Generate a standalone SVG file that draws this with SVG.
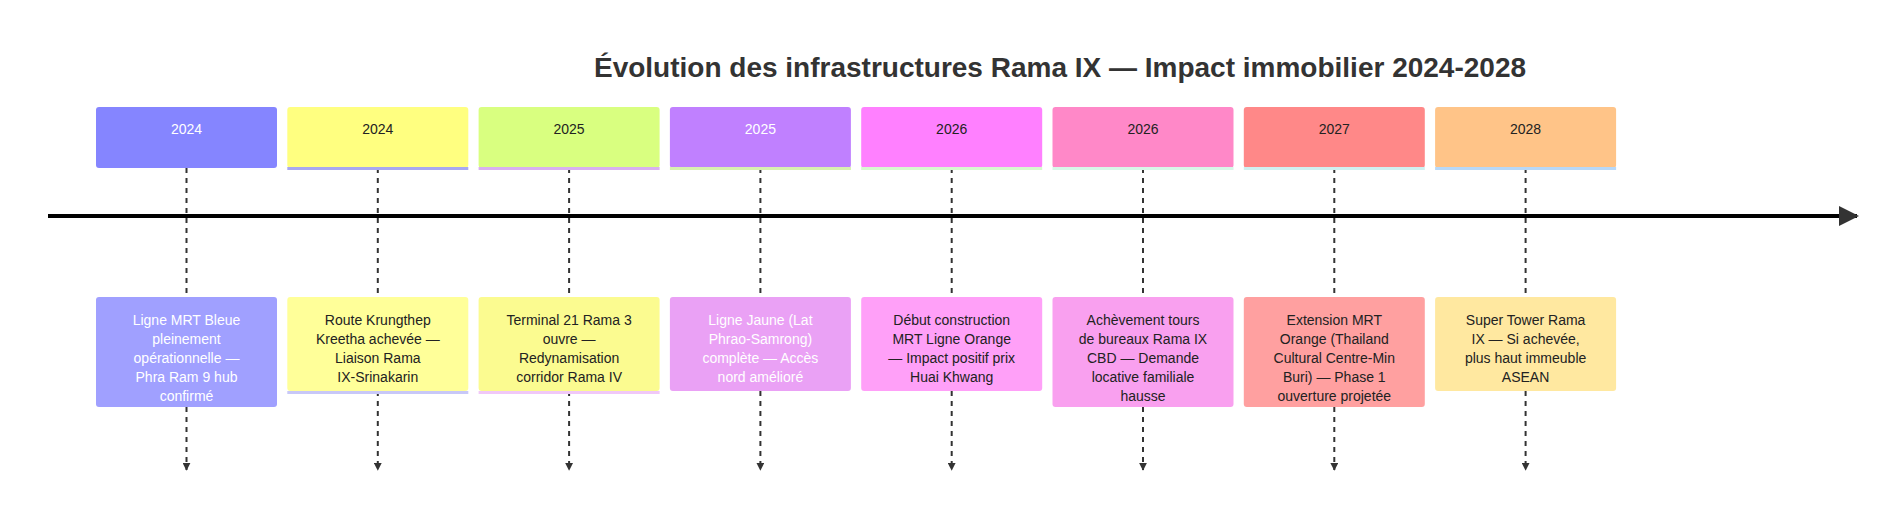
<svg xmlns="http://www.w3.org/2000/svg" width="1904" height="520" viewBox="0 0 1904 520">
<style>
text{font-family:"Liberation Sans",Arial,sans-serif;text-anchor:middle}
.t{font-size:28px;font-weight:bold;fill:#333}
.y{font-size:14px;fill:#222}
.d{font-size:14px;fill:#222}
.w{fill:#fff}
.c{stroke:#333;stroke-width:2;stroke-dasharray:5,5;fill:none}
</style>
<defs>
<marker id="a" viewBox="0 0 10 10" refX="9" refY="5" markerWidth="5" markerHeight="5" orient="auto"><path d="M0,0L10,5L0,10z" fill="#333"/></marker>
<marker id="b" viewBox="0 0 10 10" refX="9" refY="5" markerWidth="4" markerHeight="4" orient="auto"><path d="M0,0L10,5L0,10z" fill="#333"/></marker>
</defs>
<rect width="1904" height="520" fill="#fff"/>
<text class="t" x="1060" y="77">Évolution des infrastructures Rama IX — Impact immobilier 2024-2028</text>
<g id="connectors">
<line x1="48" y1="216" x2="1857" y2="216" stroke="#000" stroke-width="4" marker-end="url(#a)"/>
<path class="c" d="M186.5,168V297M186.5,407V470" marker-end="url(#b)"/>
<path class="c" d="M377.8,168V297M377.8,391V470" marker-end="url(#b)"/>
<path class="c" d="M569.1,168V297M569.1,391V470" marker-end="url(#b)"/>
<path class="c" d="M760.4,168V297M760.4,391V470" marker-end="url(#b)"/>
<path class="c" d="M951.7,168V297M951.7,391V470" marker-end="url(#b)"/>
<path class="c" d="M1143,168V297M1143,407V470" marker-end="url(#b)"/>
<path class="c" d="M1334.3,168V297M1334.3,407V470" marker-end="url(#b)"/>
<path class="c" d="M1525.6,168V297M1525.6,391V470" marker-end="url(#b)"/>
</g>
<g id="n1"><rect x="96" y="107" width="181" height="61" rx="3" fill="#8585ff"/><text class="y w" x="186.5" y="134">2024</text>
<rect x="96" y="297" width="181" height="110" rx="3" fill="#a0a0ff"/><text class="d w" x="186.5" y="325">Ligne MRT Bleue<tspan x="186.5" dy="19">pleinement</tspan><tspan x="186.5" dy="19">opérationnelle —</tspan><tspan x="186.5" dy="19">Phra Ram 9 hub</tspan><tspan x="186.5" dy="19">confirmé</tspan></text></g>
<g id="n2"><rect x="287.3" y="107" width="181" height="61" rx="3" fill="#ffff80"/><rect x="287.3" y="167" width="181" height="3" fill="#a8a8f0"/><text class="y" x="377.8" y="134">2024</text>
<rect x="287.3" y="297" width="181" height="94" rx="3" fill="#ffff99"/><rect x="287.3" y="391" width="181" height="3" fill="#c8c8f8"/><text class="d" x="377.8" y="325">Route Krungthep<tspan x="377.8" dy="19">Kreetha achevée —</tspan><tspan x="377.8" dy="19">Liaison Rama</tspan><tspan x="377.8" dy="19">IX-Srinakarin</tspan></text></g>
<g id="n3"><rect x="478.6" y="107" width="181" height="61" rx="3" fill="#d9ff80"/><rect x="478.6" y="167" width="181" height="3" fill="#d8b0f0"/><text class="y" x="569.1" y="134">2025</text>
<rect x="478.6" y="297" width="181" height="94" rx="3" fill="#fbfb90"/><rect x="478.6" y="391" width="181" height="3" fill="#f0c8f8"/><text class="d" x="569.1" y="325">Terminal 21 Rama 3<tspan x="569.1" dy="19">ouvre —</tspan><tspan x="569.1" dy="19">Redynamisation</tspan><tspan x="569.1" dy="19">corridor Rama IV</tspan></text></g>
<g id="n4"><rect x="669.9" y="107" width="181" height="61" rx="3" fill="#c080ff"/><rect x="669.9" y="167" width="181" height="3" fill="#d8f0b0"/><text class="y w" x="760.4" y="134">2025</text>
<rect x="669.9" y="297" width="181" height="94" rx="3" fill="#eaa1f5"/><text class="d w" x="760.4" y="325">Ligne Jaune (Lat<tspan x="760.4" dy="19">Phrao-Samrong)</tspan><tspan x="760.4" dy="19">complète — Accès</tspan><tspan x="760.4" dy="19">nord amélioré</tspan></text></g>
<g id="n5"><rect x="861.2" y="107" width="181" height="61" rx="3" fill="#ff80ff"/><rect x="861.2" y="167" width="181" height="3" fill="#d8f8d0"/><text class="y" x="951.7" y="134">2026</text>
<rect x="861.2" y="297" width="181" height="94" rx="3" fill="#ffa0f8"/><text class="d" x="951.7" y="325">Début construction<tspan x="951.7" dy="19">MRT Ligne Orange</tspan><tspan x="951.7" dy="19">— Impact positif prix</tspan><tspan x="951.7" dy="19">Huai Khwang</tspan></text></g>
<g id="n6"><rect x="1052.5" y="107" width="181" height="61" rx="3" fill="#ff88c8"/><rect x="1052.5" y="167" width="181" height="3" fill="#d8f8e8"/><text class="y" x="1143" y="134">2026</text>
<rect x="1052.5" y="297" width="181" height="110" rx="3" fill="#f9a0ef"/><text class="d" x="1143" y="325">Achèvement tours<tspan x="1143" dy="19">de bureaux Rama IX</tspan><tspan x="1143" dy="19">CBD — Demande</tspan><tspan x="1143" dy="19">locative familiale</tspan><tspan x="1143" dy="19">hausse</tspan></text></g>
<g id="n7"><rect x="1243.8" y="107" width="181" height="61" rx="3" fill="#ff8888"/><rect x="1243.8" y="167" width="181" height="3" fill="#d0f0f0"/><text class="y" x="1334.3" y="134">2027</text>
<rect x="1243.8" y="297" width="181" height="110" rx="3" fill="#ffa0a0"/><text class="d" x="1334.3" y="325">Extension MRT<tspan x="1334.3" dy="19">Orange (Thailand</tspan><tspan x="1334.3" dy="19">Cultural Centre-Min</tspan><tspan x="1334.3" dy="19">Buri) — Phase 1</tspan><tspan x="1334.3" dy="19">ouverture projetée</tspan></text></g>
<g id="n8"><rect x="1435.1" y="107" width="181" height="61" rx="3" fill="#ffc488"/><rect x="1435.1" y="167" width="181" height="3" fill="#b8d8f8"/><text class="y" x="1525.6" y="134">2028</text>
<rect x="1435.1" y="297" width="181" height="94" rx="3" fill="#ffe8a0"/><text class="d" x="1525.6" y="325">Super Tower Rama<tspan x="1525.6" dy="19">IX — Si achevée,</tspan><tspan x="1525.6" dy="19">plus haut immeuble</tspan><tspan x="1525.6" dy="19">ASEAN</tspan></text></g>
</svg>
